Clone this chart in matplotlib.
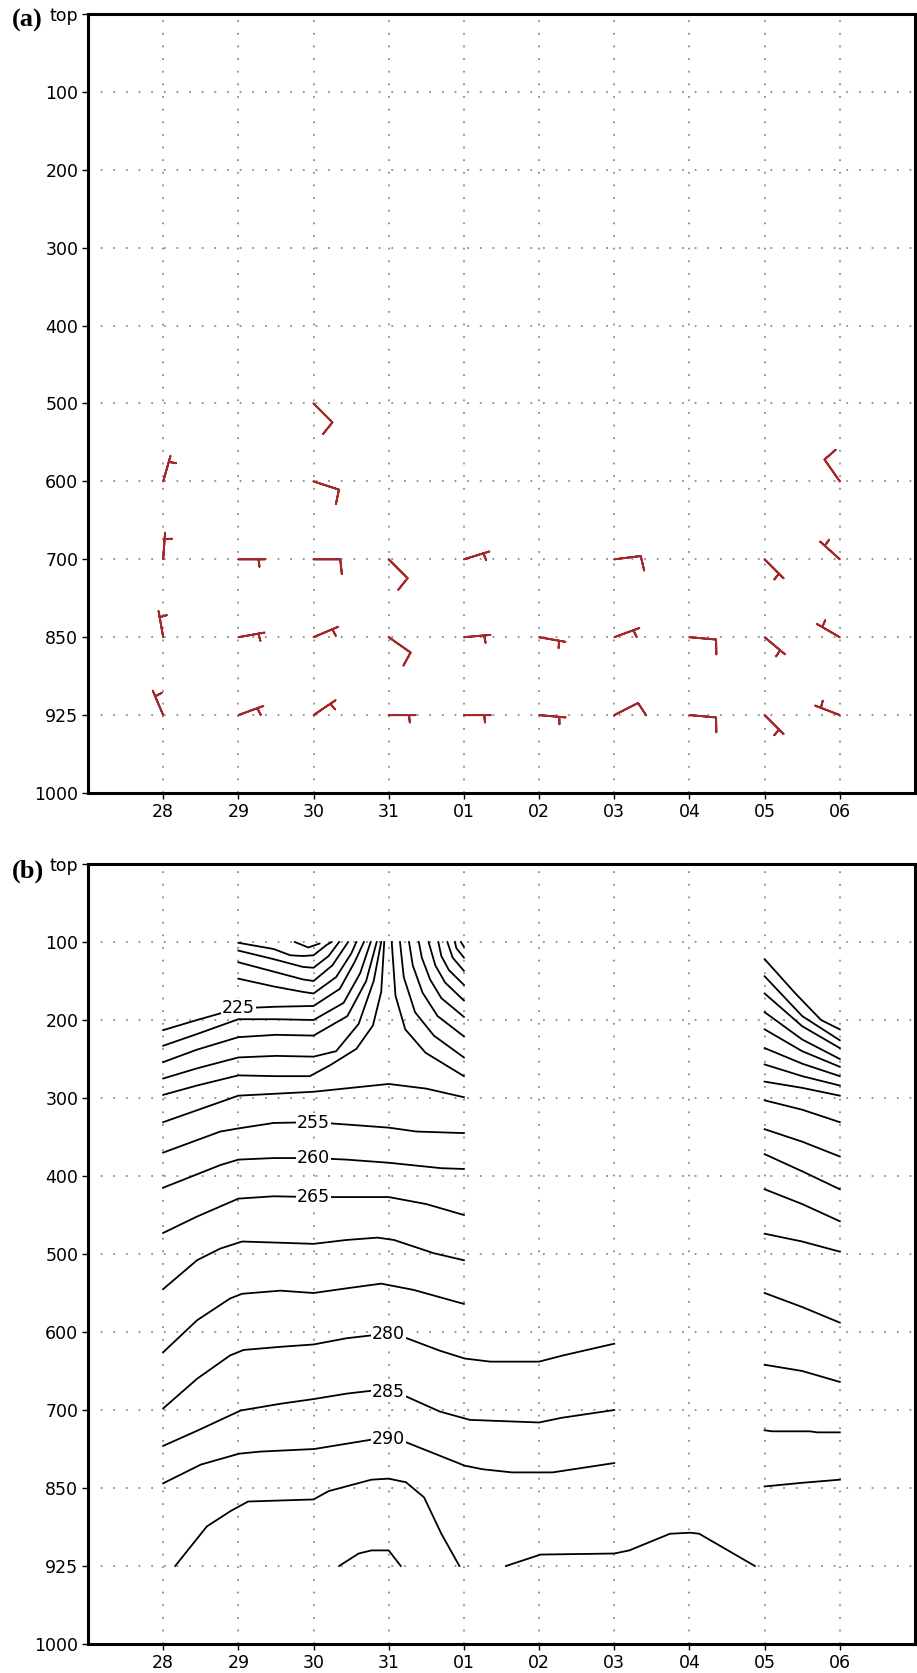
import numpy as np
import matplotlib.pyplot as plt

plt.rcParams['font.family'] = ['Liberation Sans Narrow', 'DejaVu Sans']

# axes categories
DAYS = ['28', '29', '30', '31', '01', '02', '03', '04', '05', '06']
DAY_POS = np.arange(1, 11)
PLEV = [0, 100, 200, 300, 400, 500, 600, 700, 850, 925, 1000]
PLEV_LABELS = ['top', '100', '200', '300', '400', '500', '600', '700', '850', '925', '1000']

# (a) wind barbs: day position, level (hPa), direction wind comes from (deg), speed
BARB_DAY = [1, 1, 1, 1,
            2, 2, 2,
            3, 3, 3, 3, 3,
            4, 4, 4,
            5, 5, 5,
            6, 6,
            7, 7, 7,
            8, 8,
            9, 9, 9,
            10, 10, 10, 10]
BARB_P = [600, 700, 850, 925,
          700, 850, 925,
          500, 600, 700, 850, 925,
          700, 850, 925,
          700, 850, 925,
          850, 925,
          700, 850, 925,
          850, 925,
          700, 850, 925,
          600, 700, 850, 925]
BARB_DIR = [16, 4, 350, 337,
            90, 80, 70,
            135, 108, 90, 67, 56,
            135, 125, 90,
            73, 85, 90,
            100, 95,
            83, 70, 63,
            95, 95,
            135, 130, 135,
            325, 312, 300, 291]
BARB_SPD = [5, 5, 5, 5,
            5, 5, 5,
            10, 10, 10, 5, 5,
            10, 10, 5,
            5, 5, 5,
            5, 5,
            10, 5, 10,
            10, 10,
            5, 5, 5,
            10, 5, 5, 5]

# (b) isotherms (K): (value, day positions, pressures)
UPPER_LEFT = [
    (200, [2.75, 2.93, 3.08], [100, 107, 102]),
    (205, [2.0, 2.47, 2.69, 2.86, 3.0, 3.17, 3.24], [101, 109, 117, 118, 117, 104, 100]),
    (210, [2.0, 2.47, 2.86, 3.0, 3.2, 3.34], [111, 122, 132, 133, 118, 100]),
    (215, [2.0, 2.47, 2.86, 3.0, 3.25, 3.46], [126, 138, 148, 150, 130, 100]),
    (220, [2.0, 2.47, 2.86, 3.0, 3.3, 3.5, 3.57], [147, 157, 164, 166, 145, 115, 100]),
    (225, [1.0, 1.45, 2.0, 2.5, 3.0, 3.35, 3.55, 3.67], [213, 200, 185, 183, 182, 160, 125, 100]),
    (230, [1.0, 1.45, 2.0, 2.5, 3.0, 3.4, 3.62, 3.76], [233, 218, 199, 199, 200, 178, 140, 100]),
    (235, [1.0, 1.45, 2.0, 2.5, 3.0, 3.45, 3.7, 3.84], [254, 238, 222, 219, 220, 195, 150, 100]),
    (240, [1.0, 1.45, 2.0, 2.5, 3.0, 3.3, 3.6, 3.8, 3.9], [275, 262, 248, 246, 247, 240, 205, 150, 100]),
    (245, [1.0, 1.45, 2.0, 2.5, 2.95, 3.22, 3.57, 3.79, 3.9, 3.94], [296, 284, 271, 272, 272, 258, 237, 207, 164, 100]),
]
UPPER_RIGHT = [
    (245, [5.0, 4.49, 4.22, 4.09, 4.04], [272, 242, 212, 169, 100]),
    (240, [5.0, 4.6, 4.35, 4.2, 4.15], [248, 220, 190, 145, 100]),
    (235, [5.0, 4.65, 4.45, 4.32, 4.27], [221, 195, 165, 130, 100]),
    (230, [5.0, 4.7, 4.55, 4.44, 4.4], [196, 172, 148, 120, 100]),
    (225, [5.0, 4.75, 4.62, 4.53], [175, 152, 130, 100]),
    (220, [5.0, 4.8, 4.7, 4.66], [155, 136, 118, 100]),
    (215, [5.0, 4.85, 4.78], [137, 120, 100]),
    (210, [5.0, 4.9, 4.88], [120, 108, 100]),
    (205, [5.0, 4.96], [106, 100]),
]
MIDDLE = [
    (250, [1.0, 1.5, 2.0, 3.0, 3.5, 4.0, 4.5, 5.0], [331, 314, 297, 292, 287, 282, 288, 299]),
    (255, [1.0, 1.76, 2.0, 2.47, 3.0, 3.44, 4.0, 4.37, 5.0], [370, 343, 339, 332, 331, 334, 338, 343, 345]),
    (260, [1.0, 1.76, 2.0, 2.47, 3.0, 3.44, 4.0, 4.7, 5.0], [415, 386, 379, 377, 377, 379, 383, 390, 391]),
    (265, [1.0, 1.45, 2.0, 2.47, 3.0, 4.0, 4.5, 5.0], [473, 452, 429, 426, 427, 427, 436, 450]),
    (270, [1.0, 1.45, 1.76, 2.05, 2.7, 3.0, 3.44, 3.85, 4.07, 4.6, 5.0],
     [545, 508, 493, 484, 486, 487, 482, 479, 482, 499, 508]),
    (275, [1.0, 1.45, 1.89, 2.05, 2.56, 3.0, 3.44, 3.9, 4.33, 5.0],
     [626, 585, 557, 551, 547, 550, 544, 538, 546, 564]),
    (280, [1.0, 1.45, 1.89, 2.07, 2.56, 3.0, 3.44, 3.8, 4.0, 4.24, 4.68, 5.01, 5.35, 6.0, 6.32, 7.0],
     [698, 660, 630, 623, 619, 616, 608, 604, 602, 608, 624, 634, 638, 638, 630, 615]),
    (285, [1.0, 1.45, 2.03, 2.56, 3.0, 3.44, 3.8, 4.0, 4.24, 4.68, 5.08, 6.0, 6.3, 7.0],
     [769, 740, 701, 692, 686, 679, 675, 677, 683, 703, 719, 724, 715, 700]),
    (290, [1.0, 1.5, 2.01, 2.29, 3.01, 3.77, 4.0, 4.23, 5.01, 5.25, 5.64, 6.18, 7.0],
     [841, 805, 784, 780, 775, 757, 756, 762, 807, 814, 820, 820, 802]),
    (295, [1.16, 1.58, 1.9, 2.13, 3.0, 3.2, 3.77, 4.0, 4.23, 4.47, 4.7, 4.94],
     [925, 887, 872, 863, 861, 853, 834, 832, 839, 859, 894, 925]),
    (295, [5.56, 6.02, 7.0, 7.2, 7.74, 8.01, 8.13, 8.87], [925, 914, 913, 910, 894, 893, 894, 925]),
    (300, [3.34, 3.6, 3.77, 4.0, 4.16], [925, 913, 910, 910, 925]),
]
EAST = [
    (210, [9.0, 9.4, 9.75, 10.0], [122, 165, 200, 212]),
    (215, [9.0, 9.5, 10.0], [144, 195, 226]),
    (220, [9.0, 9.5, 10.0], [166, 208, 236]),
    (225, [9.0, 9.5, 10.0], [190, 225, 250]),
    (230, [9.0, 9.5, 10.0], [212, 240, 260]),
    (235, [9.0, 9.5, 10.0], [236, 256, 272]),
    (240, [9.0, 9.5, 10.0], [257, 272, 284]),
    (245, [9.0, 9.5, 10.0], [279, 287, 297]),
    (250, [9.0, 9.5, 10.0], [303, 315, 331]),
    (255, [9.0, 9.5, 10.0], [340, 356, 375]),
    (260, [9.0, 9.5, 10.0], [372, 394, 417]),
    (265, [9.0, 9.5, 10.0], [417, 436, 458]),
    (270, [9.0, 9.5, 10.0], [474, 484, 497]),
    (275, [9.0, 9.5, 10.0], [550, 568, 588]),
    (280, [9.0, 9.5, 10.0], [642, 650, 664]),
    (285, [9.0, 9.1, 9.6, 9.7, 10.0], [739, 741, 741, 743, 743]),
    (290, [9.0, 9.5, 10.0], [847, 840, 834]),
]
# contour labels: value, day position, pressure
LABEL_T = [225, 255, 260, 265, 280, 285, 290]
LABEL_DAY = [2.0, 3.0, 3.0, 3.0, 4.0, 4.0, 4.0]
LABEL_P = [185, 332, 377, 427, 602, 677, 756]

# the vertical axis is evenly spaced by level, so pressures go through the level index
lev_idx = np.arange(len(PLEV), dtype=float)


def to_y(p):
    return np.interp(p, PLEV, lev_idx)


def setup(ax):
    ax.set_xlim(0, 11)
    ax.set_ylim(lev_idx[-1], 0)
    ax.set_xticks(DAY_POS, DAYS)
    ax.set_yticks(lev_idx, PLEV_LABELS)
    ax.grid(True, color='0.55', linestyle=(0, (1, 6)), linewidth=1.3)
    ax.tick_params(direction='out', length=4, width=1, labelsize=12.5, pad=3)
    for s in ax.spines.values():
        s.set_linewidth(2.2)


fig = plt.figure(figsize=(9.17, 16.73), dpi=100)
ax_a = fig.add_axes([88 / 917, 1 - 793 / 1673, 827 / 917, 779 / 1673])
ax_b = fig.add_axes([88 / 917, 1 - 1644 / 1673, 827 / 917, 780 / 1673])
setup(ax_a)
setup(ax_b)

# (a) wind barbs (the barb collection scales its size with length**2)
rad = np.deg2rad(BARB_DIR)
spd = np.array(BARB_SPD, dtype=float)
u = -spd * np.sin(rad)
v = -spd * np.cos(rad)
ax_a.barbs(BARB_DAY, to_y(BARB_P), u, v, length=6.2, color='#a3282a', linewidth=1.4,
           sizes=dict(height=0.55, width=0.12, spacing=0.16), zorder=3)

# (b) isotherms
for group in (UPPER_LEFT, UPPER_RIGHT, MIDDLE, EAST):
    for t, xs, ps in group:
        ax_b.plot(xs, to_y(ps), color='black', linewidth=1.3, zorder=3)
for t, x, p in zip(LABEL_T, LABEL_DAY, LABEL_P):
    ax_b.text(x, to_y(p), str(t), ha='center', va='center', fontsize=12.5, zorder=4,
              bbox=dict(facecolor='white', edgecolor='none', pad=0.6))

fig.text(12 / 917, 1 - 20 / 1673, '(a)', family=['Liberation Serif', 'DejaVu Serif'],
         fontweight='bold', fontsize=19, ha='left', va='center')
fig.text(12 / 917, 1 - 871 / 1673, '(b)', family=['Liberation Serif', 'DejaVu Serif'],
         fontweight='bold', fontsize=19, ha='left', va='center')

fig.savefig('out.png', dpi=100)
